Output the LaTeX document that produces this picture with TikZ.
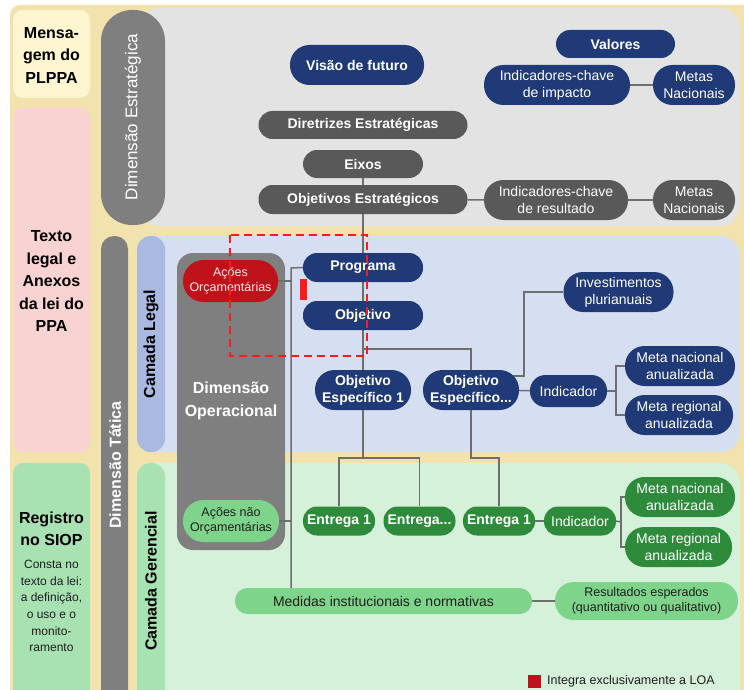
\documentclass[tikz,border=0pt]{standalone}
\usepackage{fontspec}
\setmainfont{Liberation Sans}
\usepackage{tikz}
\usetikzlibrary{positioning,calc}

\definecolor{beige}{HTML}{F2E2AE}
\definecolor{msgyellow}{HTML}{FEF6D0}
\definecolor{lawpink}{HTML}{F9D2D2}
\definecolor{siopgreen}{HTML}{A8E2B2}
\definecolor{strgrey}{HTML}{E3E3E3}
\definecolor{legalblue}{HTML}{D6DEF1}
\definecolor{legalpill}{HTML}{A9B9E2}
\definecolor{mgmtgreen}{HTML}{D5F1D9}
\definecolor{pillgrey}{HTML}{7F7F7F}
\definecolor{navy}{HTML}{203A78}
\definecolor{darkgrey}{HTML}{595959}
\definecolor{darkgreen}{HTML}{2E8B3C}
\definecolor{lightgreen}{HTML}{7ED48A}
\definecolor{budgetred}{HTML}{C0121A}
\definecolor{wiregrey}{HTML}{6E6E6E}
\definecolor{darktext}{HTML}{1E1E1E}
\definecolor{markred}{HTML}{FF1A1A}

\pgfdeclarelayer{panels}
\pgfdeclarelayer{wires}
\pgfsetlayers{panels,wires,main}

\tikzset{
  box/.style={shape=rectangle, inner sep=0pt, align=center, font=\fontsize{14}{17}\selectfont},
  bold/.style={font=\fontsize{14}{17}\selectfont\bfseries},
  small/.style={font=\fontsize{12.5}{15.5}\selectfont},
  lowbox/.style={box, minimum height=29pt, rounded corners=14pt},
  highbox/.style={box, minimum height=40pt, rounded corners=19.5pt},
  navybox/.style={fill=navy, text=white},
  greybox/.style={fill=darkgrey, text=white},
  greenbox/.style={fill=darkgreen, text=white},
  lightbox/.style={fill=lightgreen, text=darktext},
  wire/.style={draw=wiregrey, line width=1.5pt},
  sidetext/.style={align=center, text=black, font=\fontsize{16}{22.5}\selectfont\bfseries},
  uptext/.style={rotate=90, inner sep=0pt, font=\fontsize{16}{19}\selectfont\bfseries}
}

\begin{document}
\begin{tikzpicture}[x=1pt,y=-1pt]
\useasboundingbox (0,0) rectangle (744,690);

\begin{pgfonlayer}{panels}
  \fill[beige, rounded corners=10pt] (10,5) rectangle (770,720);
  \fill[msgyellow, rounded corners=10pt] (13,10) rectangle (90,98);
  \fill[lawpink, rounded corners=10pt] (13,108) rectangle (90,452);
  \fill[siopgreen, rounded corners=10pt] (13,463) rectangle (90,720);
  \fill[strgrey, rounded corners=20pt] (140,8) rectangle (740,226);
  \fill[legalblue, rounded corners=20pt] (137,236) rectangle (740,452);
  \fill[mgmtgreen, rounded corners=20pt] (137,463) rectangle (740,730);
  \fill[pillgrey, rounded corners=31pt] (101,10) rectangle (165,225);
  \fill[pillgrey, rounded corners=13pt] (101,236) rectangle (128,730);
  \fill[legalpill, rounded corners=13.5pt] (137,236) rectangle (165,452);
  \fill[siopgreen, rounded corners=13.5pt] (137,463) rectangle (165,730);
  \fill[pillgrey, rounded corners=16pt] (177,253) rectangle (285,550);
\end{pgfonlayer}

% left column
\node[sidetext] (mensagem) at (51.5,55) {Mensa-\\gem do\\PLPPA};
\node[sidetext] (textolegal) at (51.5,281) {Texto\\legal e\\Anexos\\da lei do\\PPA};
\node[sidetext] (registro) at (51.5,529) {Registro\\no SIOP};
\node[align=center, text=darktext, font=\fontsize{12}{16.6}\selectfont] (consta) at (51.5,606) {Consta no\\texto da lei:\\a definição,\\o uso e o\\monito-\\ramento};

% side labels
\node[uptext, text=white, font=\fontsize{17}{19}\selectfont] (dimestr) at (133,117) {Dimensão Estratégica};
\node[uptext, text=white] (dimtat) at (115,465) {Dimensão Tática};
\node[uptext, text=black] (camlegal) at (151,344) {Camada Legal};
\node[uptext, text=black] (camger) at (151,581) {Camada Gerencial};
\node[align=center, text=white, font=\fontsize{16}{23}\selectfont\bfseries] (dimop) at (231,401) {Dimensão\\Operacional};

% estrategica
\node[highbox, bold, navybox, minimum width=134pt] (visao) at (357,65) {Visão de futuro};
\node[lowbox, bold, navybox, minimum width=119pt, minimum height=28pt] (valores) at (615.5,44) {Valores};
\node[highbox, navybox, minimum width=146pt] (indimp) at (557,85) {Indicadores-chave\\de impacto};
\node[highbox, navybox, minimum width=82pt] (metasnac1) at (694,85) {Metas\\Nacionais};
\node[lowbox, bold, greybox, minimum width=209pt, minimum height=28pt] (diretrizes) at (363,125) {Diretrizes Estratégicas};
\node[lowbox, bold, greybox, minimum width=120pt, minimum height=28pt] (eixos) at (363,164) {Eixos};
\node[lowbox, bold, greybox, minimum width=209pt] (objestr) at (363,199.5) {Objetivos Estratégicos};
\node[highbox, greybox, minimum width=144pt] (indres) at (556,200) {Indicadores-chave\\de resultado};
\node[highbox, greybox, minimum width=82pt] (metasnac2) at (694,200) {Metas\\Nacionais};

% camada legal
\node[highbox, small, fill=budgetred, text=red!8, minimum width=95pt, minimum height=42pt, rounded corners=20.5pt] (acoesorc) at (230.5,281) {Ações\\Orçamentárias};
\node[lowbox, bold, navybox, minimum width=120pt] (programa) at (363,267.5) {Programa};
\node[lowbox, bold, navybox, minimum width=120pt] (objetivo) at (363,315.5) {Objetivo};
\node[highbox, bold, navybox, minimum width=96pt] (objesp1) at (363,390) {Objetivo\\Específico 1};
\node[highbox, bold, navybox, minimum width=96pt] (objesp2) at (471,390) {Objetivo\\Específico...};
\node[highbox, navybox, minimum width=110pt] (invest) at (618.5,292) {Investimentos\\plurianuais};
\node[lowbox, navybox, minimum width=77pt, minimum height=32pt, rounded corners=15.5pt] (indn) at (568.5,391) {Indicador};
\node[highbox, navybox, minimum width=110pt] (metanacn) at (680,366) {Meta nacional\\anualizada};
\node[highbox, navybox, minimum width=108pt] (metaregn) at (679,415) {Meta regional\\anualizada};

% camada gerencial
\node[highbox, small, lightbox, minimum width=96pt, minimum height=42pt, rounded corners=20.5pt] (acoesnao) at (231,521) {Ações não\\Orçamentárias};
\node[lowbox, bold, greenbox, minimum width=72pt] (entrega1a) at (339,521) {Entrega 1};
\node[lowbox, bold, greenbox, minimum width=72pt] (entregab) at (419.5,521) {Entrega...};
\node[lowbox, bold, greenbox, minimum width=72pt] (entrega1b) at (499,521) {Entrega 1};
\node[lowbox, greenbox, minimum width=72pt] (indg) at (580,521) {Indicador};
\node[highbox, greenbox, minimum width=110pt] (metanacg) at (680,497) {Meta nacional\\anualizada};
\node[highbox, greenbox, minimum width=107pt] (metaregg) at (678.5,547) {Meta regional\\anualizada};
\node[lowbox, lightbox, minimum width=297pt, minimum height=26pt, rounded corners=12.5pt] (medidas) at (383.5,601) {Medidas institucionais e normativas};
\node[highbox, small, lightbox, minimum width=183pt, minimum height=38pt, rounded corners=18.5pt] (result) at (646.5,601) {Resultados esperados\\(quantitativo ou qualitativo)};

% legend
\node[fill=budgetred, minimum size=13pt, inner sep=0pt] (legkey) at (534.5,681) {};
\node[anchor=west, text=darktext, font=\fontsize{12.5}{15}\selectfont, inner sep=0pt] (legtext) at (547,681) {Integra exclusivamente a LOA};

% marks
\draw[markred, line width=2.2pt, dash pattern=on 8pt off 5pt] (230,235) rectangle (367,356);
\fill[markred] (300,279) rectangle (306.5,300);

\begin{pgfonlayer}{wires}
  \path[wire] (indimp) edge (metasnac1);
  \path[wire] (eixos) edge (objestr);
  \path[wire] (objestr) edge (indres);
  \path[wire] (indres) edge (metasnac2);
  \path[wire] (objestr) edge (programa);
  \path[wire] (programa) edge (objetivo);
  \path[wire] (objetivo) edge (objesp1);
  \path[wire] (objesp2) edge (indn);
  \path[wire] (entrega1b) edge (indg);
  \path[wire] (medidas) edge (result);
  \coordinate (jobj) at (363,349);
  \draw[wire] (jobj) -| (objesp2.north);
  \coordinate (jinv) at (524,376);
  \draw[wire] (invest.west) -| (jinv) -- (jinv -| objesp2.center);
  \coordinate (forkn) at (616,391);
  \draw[wire] (indn.east) -- (forkn);
  \draw[wire] (metanacn.west) -| (forkn) |- (metaregn.west);
  \coordinate (bustop) at (291,268);
  \draw[wire] (programa.west) -- (bustop) -- (bustop |- medidas.north);
  \draw[wire] (acoesorc.east) -- (acoesorc.east -| bustop);
  \draw[wire] (acoesnao.east) -- (acoesnao.east -| bustop);
  \coordinate (jesp1) at (363,458);
  \draw[wire] (objesp1.south) -- (jesp1);
  \draw[wire] (entrega1a.north) |- (jesp1) -| (entregab.north);
  \coordinate (jesp2) at (471,458);
  \draw[wire] (objesp2.south) -- (jesp2) -| (entrega1b.north);
  \coordinate (forkg) at (621,522);
  \draw[wire] (indg.east) -- (forkg);
  \draw[wire] (metanacg.west) -| (forkg) |- (metaregg.west);
\end{pgfonlayer}
\end{tikzpicture}
\end{document}
